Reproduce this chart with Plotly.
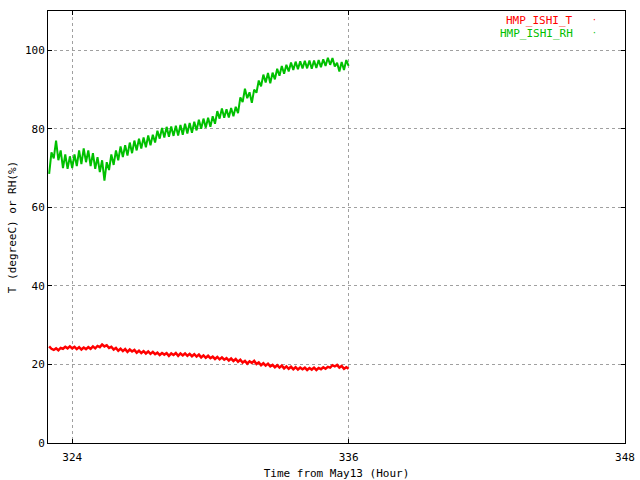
import plotly.graph_objects as go

hours = [round(323.0 + i * 0.1, 1) for i in range(131)]

rh_values = [
    68.5, 74.0, 72.5, 77.0, 72.0, 74.5, 70.0, 73.5, 69.8, 73.0,
    70.0, 73.5, 70.5, 74.5, 71.0, 75.0, 71.5, 74.5, 70.5, 73.8,
    69.8, 72.8, 69.0, 72.0, 66.8, 71.5, 69.5, 73.5, 70.8, 74.5,
    72.0, 75.5, 72.8, 75.8, 73.2, 76.5, 73.8, 77.0, 74.5, 77.5,
    75.0, 77.8, 75.3, 78.3, 75.8, 78.5, 76.5, 79.5, 77.5, 80.2,
    77.8, 80.5, 78.0, 80.6, 78.2, 80.8, 78.3, 81.0, 78.5, 81.3,
    78.8, 81.5, 79.0, 81.8, 79.6, 82.3, 80.0, 82.6, 80.3, 82.8,
    80.5, 83.2, 81.3, 84.5, 82.6, 85.2, 82.8, 85.0, 82.9, 85.3,
    83.2, 85.6, 84.0, 88.0, 86.8, 90.2, 87.8, 89.3, 86.6, 90.0,
    89.2, 92.3, 90.8, 93.8, 91.8, 94.2, 91.6, 94.3, 92.6, 95.3,
    93.5, 96.0, 94.0, 96.3, 94.6, 96.9, 95.0, 97.1, 95.2, 97.2,
    95.4, 97.3, 95.4, 97.4, 95.3, 97.4, 95.5, 97.5, 95.7, 97.7,
    96.0, 98.1, 96.3, 98.0, 95.9, 96.8, 94.6, 97.0, 95.0, 97.5,
    96.0,
]

t_values = [
    24.6, 24.0, 23.7, 24.1, 23.6, 24.2, 24.0, 24.5, 24.1, 24.6,
    24.1, 24.5, 23.9, 24.4, 23.8, 24.3, 23.9, 24.4, 24.0, 24.6,
    24.1, 24.7, 24.4, 25.1, 24.6, 24.9, 24.2, 24.5, 23.8, 24.2,
    23.5, 24.0, 23.4, 23.9, 23.2, 23.8, 23.3, 23.7, 23.0, 23.5,
    22.9, 23.4, 22.8, 23.3, 22.7, 23.2, 22.6, 23.0, 22.4, 22.9,
    22.5, 22.9, 22.2, 22.8, 22.4, 22.9, 22.2, 22.8, 22.3, 22.8,
    22.2, 22.7, 22.1, 22.6, 22.0, 22.5, 21.8, 22.3, 21.7, 22.2,
    21.6, 22.0, 21.4, 21.9, 21.3, 21.8, 21.2, 21.6, 21.0, 21.5,
    20.9, 21.4, 20.7, 21.2, 20.5, 20.9, 20.2, 20.8, 20.4, 20.9,
    20.1, 20.5, 19.8, 20.3, 19.7, 20.2, 19.5, 19.9, 19.3, 19.8,
    19.2, 19.7, 19.0, 19.5, 18.9, 19.4, 18.8, 19.3, 18.7, 19.2,
    18.8, 19.2, 18.6, 19.1, 18.7, 19.2, 18.6, 19.1, 18.8, 19.3,
    18.9, 19.4, 19.2, 19.8, 19.5, 19.9, 19.2, 19.6, 18.9, 19.3,
    18.9,
]

x_ticks = [324, 336, 348]
y_ticks = [0, 20, 40, 60, 80, 100]
series_names = ["HMP_ISHI_T", "HMP_ISHI_RH"]
series_colors = ["#ff0000", "#00c000"]

FONT = "DejaVu Sans Mono"

fig = go.Figure()
fig.add_trace(go.Scatter(x=hours, y=t_values, mode="lines", name=series_names[0],
                         line=dict(color=series_colors[0], width=2.5),
                         showlegend=False))
fig.add_trace(go.Scatter(x=hours, y=rh_values, mode="lines", name=series_names[1],
                         line=dict(color=series_colors[1], width=2),
                         showlegend=False))

# legend entries (gnuplot style: text right-aligned, dot sample)
for i, (name, col) in enumerate(zip(series_names, series_colors)):
    yp = 0.978 - i * 0.03
    fig.add_annotation(xref="paper", yref="paper", x=0.913, y=yp, text=name,
                       showarrow=False, xanchor="right", yanchor="middle",
                       font=dict(family=FONT, size=11, color=col))
    fig.add_annotation(xref="paper", yref="paper", x=0.948, y=yp, text="·",
                       showarrow=False, xanchor="center", yanchor="middle",
                       font=dict(family=FONT, size=8, color=col))

fig.update_layout(
    width=640, height=480,
    margin=dict(l=48, r=15, t=11, b=37),
    paper_bgcolor="white", plot_bgcolor="white",
    font=dict(family=FONT, size=11, color="black"),
    xaxis=dict(range=[322.95, 348], tickvals=x_ticks, ticktext=[str(v) for v in x_ticks],
               showgrid=True, gridcolor="#a0a0a0", griddash="dot", gridwidth=1,
               showline=True, linecolor="black", linewidth=1, mirror="ticks",
               ticks="inside", ticklen=4, tickcolor="black", zeroline=False,
               automargin=False, ticklabelstandoff=4,
               title=dict(text="Time from May13 (Hour)", standoff=10,
                          font=dict(family=FONT, size=11))),
    yaxis=dict(range=[0, 110], tickvals=y_ticks, ticktext=[str(v) for v in y_ticks],
               showgrid=True, gridcolor="#a0a0a0", griddash="dot", gridwidth=1,
               showline=True, linecolor="black", linewidth=1, mirror="ticks",
               ticks="inside", ticklen=4, tickcolor="black", zeroline=False,
               automargin=False,
               title=dict(text="T (degreeC) or RH(%)", standoff=6,
                          font=dict(family=FONT, size=11))),
)

fig.write_html("out.html", config={"displayModeBar": False},
               post_script="document.body.style.margin='0';")
